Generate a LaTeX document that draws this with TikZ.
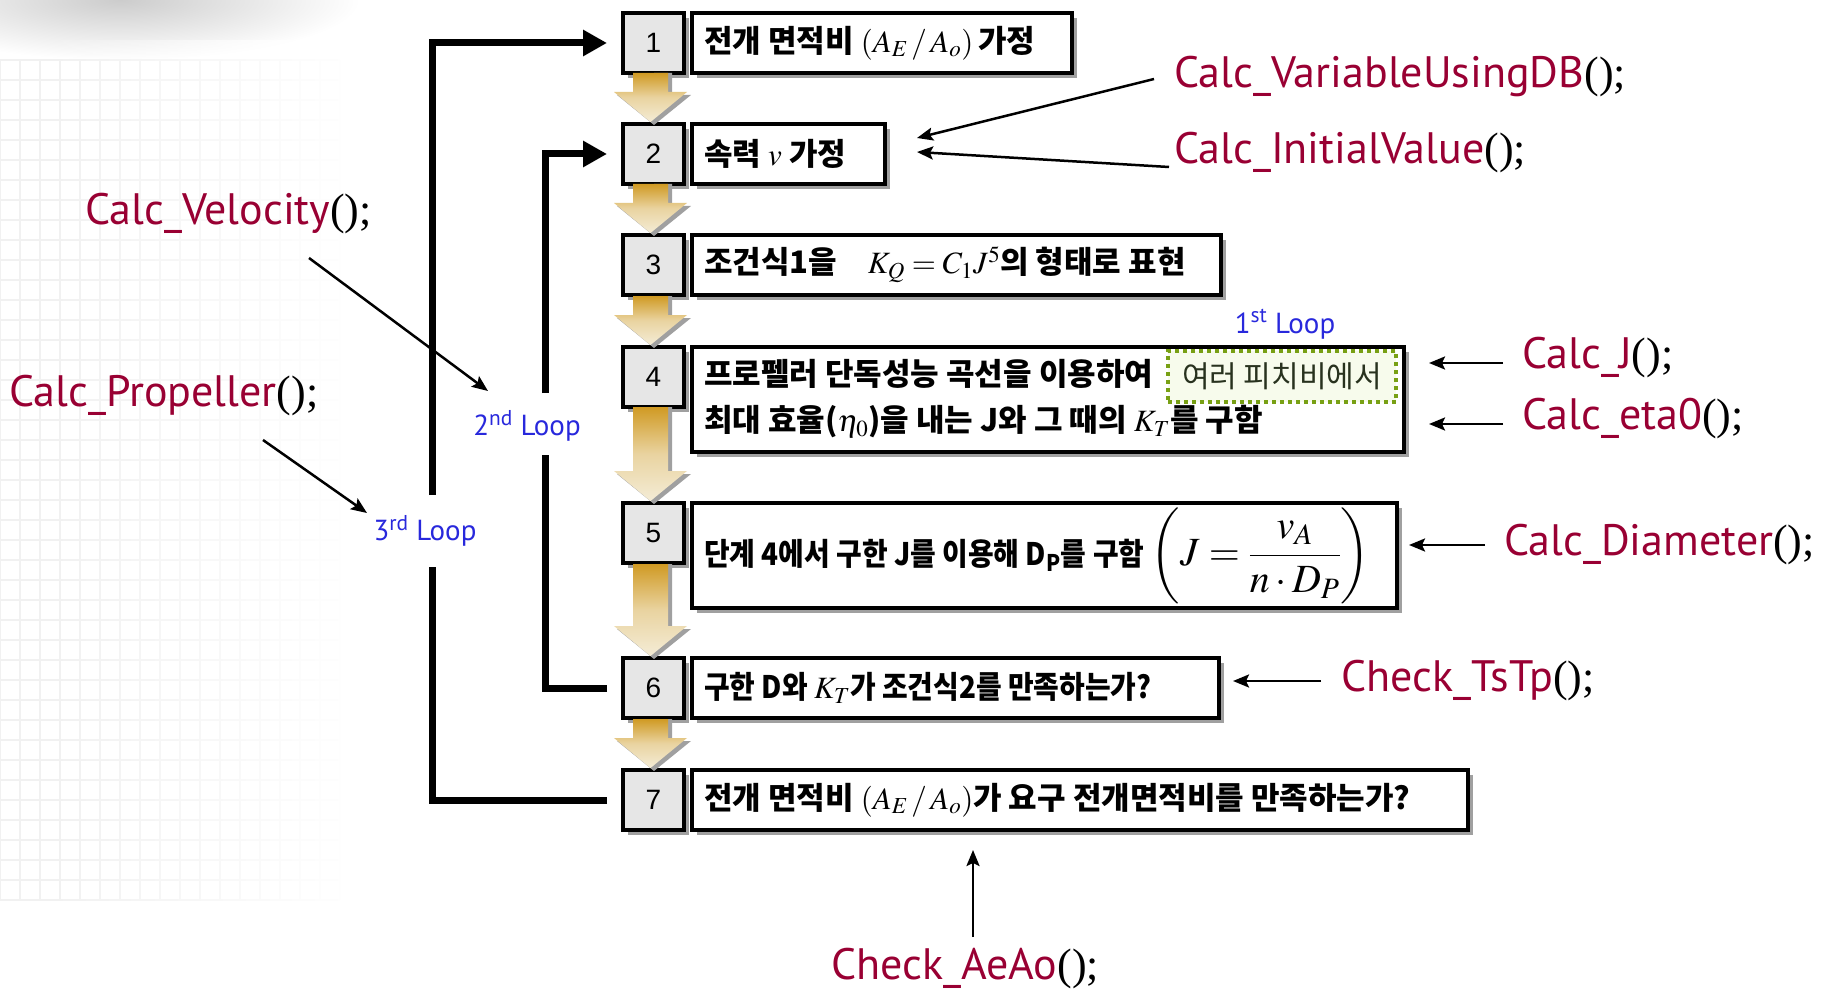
\documentclass[tikz,border=0pt]{standalone}
\usepackage{amsmath}
\usepackage{mathptmx}
\usepackage{fontspec}
\setmainfont{Liberation Serif}
\newfontfamily\kr{Noto Sans CJK KR}
\newfontfamily\krc{Noto Sans CJK KR}[FakeStretch=0.9]
\newfontfamily\lab{PT Sans}
\newfontfamily\dig{Liberation Sans}
\usetikzlibrary{arrows.meta,shadows,fadings}
\definecolor{fnred}{RGB}{153,0,51}
\definecolor{loopblue}{RGB}{40,40,220}
\definecolor{goldtop}{RGB}{208,154,35}
\definecolor{goldbot}{RGB}{244,236,214}
\definecolor{numgray}{RGB}{230,230,230}
\definecolor{shadowgray}{RGB}{160,160,160}
\definecolor{hlgreen}{RGB}{120,160,20}
\definecolor{hlfill}{RGB}{247,251,236}
\definecolor{hltext}{RGB}{40,50,30}
\newcommand\callf[1]{\textcolor{fnred}{#1}{\rmfamily ();}}
\newcommand\goldarr[2]{%
  \fill[shadowgray] (654,#1) -- (672,#1) -- (672,#2-27) -- (691,#2-27) -- (654,#2+3) -- (617,#2-27) -- (636,#2-27) -- cycle;
  \shade[top color=goldtop, bottom color=goldbot, middle color=goldbot!70!goldtop]
    (633,#1) -- (668,#1) -- (668,#2-30) -- (687,#2-30) -- (650.5,#2) -- (614,#2-30) -- (633,#2-30) -- cycle;}
\begin{document}
\begin{tikzpicture}[x=1pt,y=-1pt,
  bshadow/.style={drop shadow={shadow xshift=5pt,shadow yshift=-5pt,fill=shadowgray,opacity=1}},
  numbox/.style={draw,line width=4pt,fill=numgray,minimum width=61pt,minimum height=60pt,inner sep=0pt,
     anchor=north west,font=\dig\fontsize{28}{30}\selectfont,bshadow},
  txtbox/.style={draw,line width=4pt,fill=white,minimum height=60pt,inner xsep=12pt,inner ysep=0pt,
     anchor=north west,font=\kr\bfseries\fontsize{31}{46}\selectfont,bshadow},
  hlbox/.style={draw=hlgreen,fill=hlfill,line width=4pt,dash pattern=on 4pt off 4pt,minimum width=228pt,
     minimum height=51pt,inner sep=0pt,font=\kr\fontsize{30}{34}\selectfont,text=hltext},
  fn/.style={inner sep=0pt,anchor=west,font=\lab\fontsize{44}{50}\selectfont},
  loopl/.style={inner sep=0pt,font=\lab\fontsize{29}{32}\selectfont,text=loopblue},
  loopline/.style={line width=7pt,line join=miter},
  looparr/.style={loopline,-{Triangle[length=24pt,width=25pt]}},
  callarr/.style={line width=2.5pt,-{Stealth[length=16pt,width=13pt,inset=3pt]}}
]
\useasboundingbox (0,0) rectangle (1841,992);
% background
\shade[inner color=gray!40,outer color=white] (120,0) ellipse [x radius=240,y radius=60];
\draw[gray!11,line width=1.2pt] (0,60) grid[step=20pt] (340,900);
\fill[white,path fading=west] (40,40) rectangle (360,992);

% number boxes
\node[numbox] (n1) at (621,11) {1};
\node[numbox] (n2) at (621,122) {2};
\node[numbox] (n3) at (621,233) {3};
\node[numbox] (n4) at (621,345) {4};
\node[numbox] (n5) at (621,501) {5};
\node[numbox] (n6) at (621,656) {6};
\node[numbox] (n7) at (621,768) {7};

% text boxes
\node[txtbox] (t1) at (690,11) {\makebox[356pt][l]{전개 면적비 $(A_E\,/\,A_o)$\,가정}};
\node[txtbox] (t2) at (690,122) {\makebox[169pt][l]{속력 $v$ 가정}};
\node[txtbox] (t3) at (690,233) {\makebox[505pt][l]{조건식1을\quad $K_Q=C_1J^5$의 형태로 표현}};
\node[txtbox,minimum height=105pt] (t4) at (690,345)
  {\makebox[688pt][l]{\begin{tabular}{@{}l@{}}프로펠러 단독성능 곡선을 이용하여\\최대 효율({\mdseries$\eta_0$})을 내는 J와 그 때의 $K_T$를 구함\end{tabular}}};
\node[txtbox,minimum height=105pt] (t5) at (690,501)
  {\makebox[681pt][l]{\krc 단계 4에서 구한 J를 이용해 D\textsubscript{P}를 구함 {\fontsize{40}{42}\selectfont$\left(J=\dfrac{v_A}{n\cdot D_P}\right)$}}};
\node[txtbox] (t6) at (690,656) {\makebox[503pt][l]{\krc 구한 D와 $K_T$가 조건식2를 만족하는가?}};
\node[txtbox] (t7) at (690,768) {\makebox[752pt][l]{전개 면적비 $(A_E\,/\,A_o)$가 요구 전개면적비를 만족하는가?}};

\node[hlbox] (hl) at (1282,376.5) {여러 피치비에서};

% gold arrows
\goldarr{73}{122}
\goldarr{184}{233}
\goldarr{296}{345}
\goldarr{407}{501}
\goldarr{564}{656}
\goldarr{719}{768}

% loop labels
\node[loopl] (l1) at (1285,324) {1\textsuperscript{st} Loop};
\node[loopl] (l2) at (527,426) {2\textsuperscript{nd} Loop};
\node[loopl] (l3) at (425,531) {3\textsuperscript{rd} Loop};

% loop lines
\coordinate (g2a) at (545,393);
\coordinate (g2b) at (545,455);
\coordinate (g3a) at (432,495);
\coordinate (g3b) at (432,567);
\draw[loopline] ([xshift=-14pt]n6.west) -| (g2b);
\draw[looparr] (g2a) |- ([xshift=-14pt]n2.west);
\draw[loopline] ([xshift=-14pt]n7.west) -| (g3b);
\draw[looparr] (g3a) |- ([xshift=-14pt]n1.west);

% function labels
\node[fn] (lVar) at (1174,77) {\callf{Calc\_VariableUsingDB}};
\node[fn] (lIni) at (1174,153) {\callf{Calc\_InitialValue}};
\node[fn] (lVel) at (85,214) {\callf{Calc\_Velocity}};
\node[fn] (lPro) at (9,396) {\callf{Calc\_Propeller}};
\node[fn] (lJ) at (1522,358) {\callf{Calc\_J}};
\node[fn] (lEta) at (1522,419) {\callf{Calc\_eta0}};
\node[fn] (lDia) at (1504,545) {\callf{Calc\_Diameter}};
\node[fn] (lTs) at (1341,681) {\callf{Check\_TsTp}};
\node[fn,anchor=north] (lAe) at (965,948) {\callf{Check\_AeAo}};

% call arrows
\draw[callarr] ([xshift=-20pt,yshift=-2pt]lVar.west) -- ([xshift=30pt,yshift=16pt]t2.east);
\draw[callarr] ([xshift=-5pt,yshift=-14pt]lIni.west) -- ([xshift=30pt,yshift=2pt]t2.east);
\draw[callarr] ([xshift=224pt,yshift=-44pt]lVel.west) -- ([xshift=-39pt,yshift=35pt]l2.center);
\draw[callarr] ([xshift=254pt,yshift=-44pt]lPro.west) -- ([xshift=-58pt,yshift=18pt]l3.center);
\draw[callarr] ([xshift=-19pt,yshift=-5pt]lJ.west) -- ++(-74,0);
\draw[callarr] ([xshift=-19pt,yshift=-5pt]lEta.west) -- ++(-74,0);
\draw[callarr] ([xshift=-19pt]lDia.west) -- ++(-76,0);
\draw[callarr] ([xshift=-20pt]lTs.west) -- ++(-88,0);
\draw[callarr] ([xshift=8pt,yshift=11pt]lAe.north) -- ++(0,-87);
\end{tikzpicture}
\end{document}
